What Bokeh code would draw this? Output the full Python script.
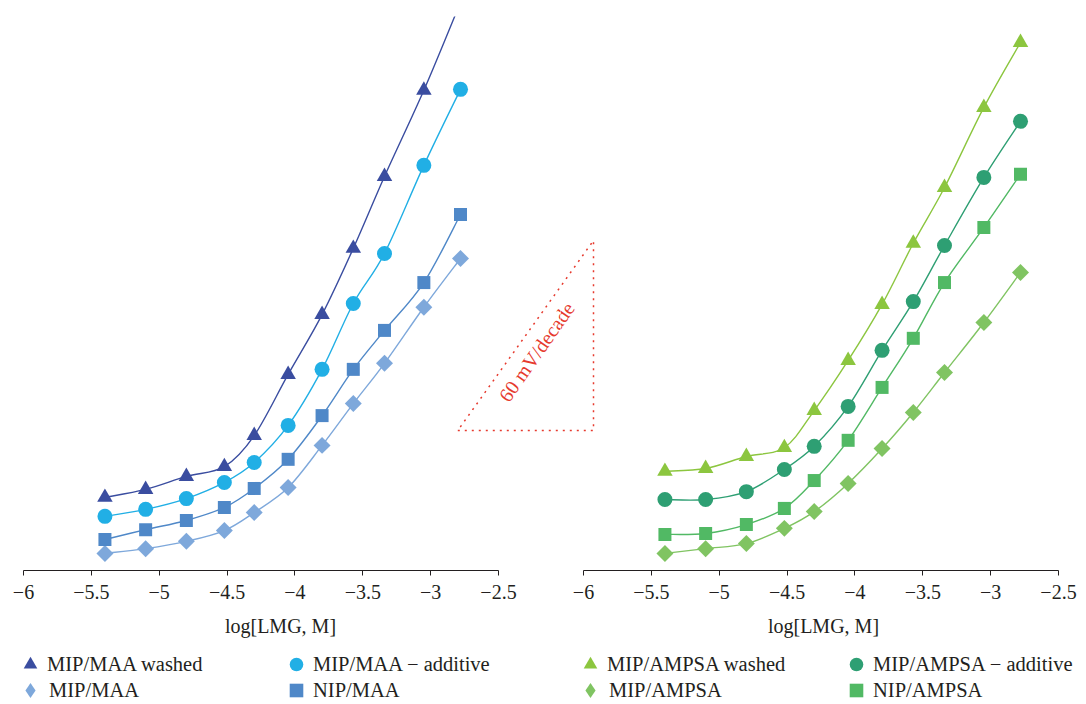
import math
from bokeh.plotting import figure
from bokeh.layouts import row, column
from bokeh.models import Range1d, FixedTicker, Legend, LegendItem
from bokeh.core.properties import value
from bokeh.embed import file_html
from bokeh.resources import INLINE

# ---------------- data ----------------
LOG_C = [-5.40, -5.10, -4.80, -4.52, -4.30, -4.05, -3.80, -3.57, -3.34, -3.05, -2.78]

# left panel (MAA), potential in mV (arbitrary offset)
MAA_WASHED = [23.1, 25.6, 29.7, 32.8, 42.6, 61.9, 80.8, 101.7, 124.4, 151.6, 179.4]
MAA_ADDITIVE = [17.1, 19.3, 22.7, 27.8, 34.1, 45.8, 63.5, 84.3, 100.1, 127.9, 151.9]
NIP_MAA = [9.8, 12.9, 15.8, 19.9, 25.9, 35.1, 48.9, 63.5, 75.8, 90.9, 112.4]
MIP_MAA = [5.4, 6.9, 9.2, 12.6, 18.3, 26.2, 39.5, 52.7, 65.4, 83.1, 98.5]

# right panel (AMPSA)
AMPSA_WASHED = [31.3, 32.2, 36.0, 38.8, 50.5, 66.3, 84.0, 103.3, 120.9, 146.2, 166.7]
AMPSA_ADDITIVE = [22.4, 22.4, 24.9, 31.9, 39.2, 51.8, 69.5, 84.9, 102.6, 124.1, 141.8]
NIP_AMPSA = [11.4, 11.7, 14.5, 19.6, 28.4, 41.1, 57.8, 73.3, 90.9, 108.3, 125.1]
MIP_AMPSA = [5.4, 6.9, 8.5, 13.3, 18.6, 27.5, 38.5, 49.9, 62.5, 78.3, 94.1]

X_TICKS = [-6, -5.5, -5, -4.5, -4, -3.5, -3, -2.5]
X_TICK_LABELS = ["\u22126", "\u22125.5", "\u22125", "\u22124.5", "\u22124", "\u22123.5", "\u22123", "\u22122.5"]
X_LABEL = "log[LMG, M]"

# 60 mV/decade guide (left-panel coordinates)
GUIDE_X = [-2.80, -1.80, -1.80, -2.80]
GUIDE_Y = [44.2, 44.2, 104.2, 44.2]
GUIDE_TEXT = "60 mV/decade"
GUIDE_TEXT_X = -2.22
GUIDE_TEXT_Y = 69.0

# ---------------- style ----------------
FONT = "Liberation Serif"
INK = "#231F20"
RED = "#E63A2E"
PX_PER_DEC = 475 / 3.5
Y_MAX = 174.9
PANEL_SHIFT = 560 / PX_PER_DEC
H_PLOT = 644
H_LEG = 60
LEG_COL_X = [13, 279]     # legend column offsets (px)
LEG_ROW_Y = [23, -3]      # legend row offsets (px, from bottom of legend strip)


def make_panel(width, lead_px):
    x0 = -6 - lead_px / PX_PER_DEC
    x1 = x0 + width / PX_PER_DEC
    p = figure(width=width, height=H_PLOT, x_range=Range1d(x0, x1), y_range=Range1d(0, Y_MAX),
               output_backend="svg", toolbar_location=None, y_axis_location=None,
               min_border_left=0, min_border_right=0, min_border_top=16, min_border_bottom=74)
    p.outline_line_color = None
    p.xgrid.visible = False
    p.ygrid.visible = False
    ax = p.xaxis[0]
    ax.bounds = (X_TICKS[0], X_TICKS[-1])
    ax.ticker = FixedTicker(ticks=X_TICKS)
    ax.major_label_overrides = {t: lab for t, lab in zip(X_TICKS, X_TICK_LABELS)}
    ax.minor_tick_line_color = None
    ax.major_tick_in = 0
    ax.major_tick_out = 5
    ax.axis_line_color = INK
    ax.major_tick_line_color = INK
    ax.major_label_text_font = FONT
    ax.major_label_text_font_size = "20px"
    ax.major_label_text_color = INK
    ax.major_label_standoff = 9
    ax.axis_label = X_LABEL
    ax.axis_label_text_font = FONT
    ax.axis_label_text_font_size = "20px"
    ax.axis_label_text_font_style = "normal"
    ax.axis_label_text_color = INK
    ax.axis_label_standoff = 13
    return p


def bezier_args(ys):
    n = len(LOG_C)
    xs = LOG_C
    b = dict(x0=[], y0=[], x1=[], y1=[], cx0=[], cy0=[], cx1=[], cy1=[])
    for i in range(n - 1):
        im, ip = max(i - 1, 0), min(i + 2, n - 1)
        b["x0"].append(xs[i]); b["y0"].append(ys[i])
        b["x1"].append(xs[i + 1]); b["y1"].append(ys[i + 1])
        b["cx0"].append(xs[i] + (xs[i + 1] - xs[im]) / 6)
        b["cy0"].append(ys[i] + (ys[i + 1] - ys[im]) / 6)
        b["cx1"].append(xs[i + 1] - (xs[ip] - xs[i]) / 6)
        b["cy1"].append(ys[i + 1] - (ys[ip] - ys[i]) / 6)
    return b


def add_series(p, ys, color, marker, size, angle=0):
    p.bezier(line_color=color, line_width=1.4, **bezier_args(ys))
    return p.scatter(LOG_C, ys, marker=marker, size=size, angle=angle, angle_units="deg",
                     fill_color=color, line_color=None)


def add_guide(p, shift):
    gx = [x - shift for x in GUIDE_X]
    p.line(gx, GUIDE_Y, line_color=RED, line_width=1.5, line_dash="2 5")
    p.text(x=[GUIDE_TEXT_X - shift], y=[GUIDE_TEXT_Y], text=[GUIDE_TEXT], angle=55, angle_units="deg",
           text_font=value(FONT), text_font_size="20px", text_color=RED,
           text_align="center", text_baseline="middle")


def make_legend_fig(width, series):
    """series: list of (label, ys, color, marker, angle); first two = column 1, last two = column 2"""
    lf = figure(width=width, height=H_LEG, x_range=Range1d(0, 1), y_range=Range1d(0, 1),
                output_backend="svg", toolbar_location=None,
                x_axis_location=None, y_axis_location=None,
                min_border_left=0, min_border_right=0, min_border_top=0, min_border_bottom=0)
    lf.outline_line_color = None
    for g in lf.grid:
        g.visible = False
    for i, (lab, ys, color, marker, angle) in enumerate(series):
        # legend glyphs are drawn unrotated, so the rotated square is shown with the diamond marker
        lm = "diamond" if angle else marker
        r = lf.scatter(LOG_C, ys, marker=lm, size=12, fill_color=color, line_color=None,
                       visible=False)
        gsz = 38 if angle else 34
        lg = Legend(items=[LegendItem(label=lab, renderers=[r])],
                    location=(LEG_COL_X[i // 2] - (gsz - 34) // 2, LEG_ROW_Y[i % 2] - (gsz - 34) // 2),
                    orientation="vertical",
                    glyph_width=gsz, glyph_height=gsz, spacing=0,
                    label_standoff=-(gsz - 34) // 2,
                    padding=0, margin=0, label_text_font=FONT, label_text_font_size="20.5px",
                    label_text_color=INK, background_fill_alpha=0, border_line_alpha=0,
                    inactive_fill_alpha=0)
        lf.add_layout(lg)
    return lf


# ---------------- series definitions ----------------
LEFT = [("MIP/MAA washed", MAA_WASHED, "#3A4DA0", "triangle", 0),
        ("MIP/MAA", MIP_MAA, "#7EA8DB", "square", 45),
        ("MIP/MAA \u2212 additive", MAA_ADDITIVE, "#21AFE5", "circle", 0),
        ("NIP/MAA", NIP_MAA, "#4F88C8", "square", 0)]
RIGHT = [("MIP/AMPSA washed", AMPSA_WASHED, "#8CC63F", "triangle", 0),
         ("MIP/AMPSA", MIP_AMPSA, "#80C462", "square", 45),
         ("MIP/AMPSA \u2212 additive", AMPSA_ADDITIVE, "#2E9F73", "circle", 0),
         ("NIP/AMPSA", NIP_AMPSA, "#51B964", "square", 0)]
SIZES = {"triangle": 15.5, "circle": 15}


def size_of(marker, angle):
    if marker in SIZES:
        return SIZES[marker]
    return 12 if angle else 13


pl = make_panel(560, 23)
for lab, ys, color, marker, angle in LEFT:
    add_series(pl, ys, color, marker, size_of(marker, angle), angle)
add_guide(pl, 0)

pr = make_panel(526, 23)
for lab, ys, color, marker, angle in RIGHT:
    add_series(pr, ys, color, marker, size_of(marker, angle), angle)
add_guide(pr, PANEL_SHIFT)

ll = make_legend_fig(560, LEFT)
lr = make_legend_fig(526, RIGHT)

layout = column(row(pl, pr, spacing=0), row(ll, lr, spacing=0), spacing=0)
open("out.html", "w").write(file_html(layout, INLINE))
